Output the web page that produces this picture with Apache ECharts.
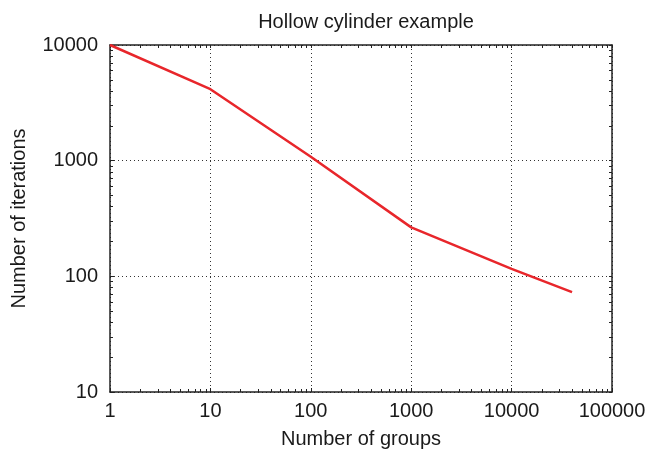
<!DOCTYPE html>
<html><head><meta charset="utf-8">
<script src="https://cdn.jsdelivr.net/npm/echarts@6/dist/echarts.min.js"></script>
<style>html,body{margin:0;padding:0;background:#fff}#c{width:651px;height:455px}</style>
</head><body><div id="c"></div>
<script>
const groups = [1, 10, 100, 1000, 10000, 40000];
const iterations = [10000, 4150, 1080, 265, 116, 73];
const xTicks = [];
for (let p = 1; p <= 10000; p *= 10) for (let m = 1; m <= 9; m++) xTicks.push(m * p);
xTicks.push(100000);
const yTicks = [];
for (let p = 10; p <= 1000; p *= 10) for (let m = 1; m <= 9; m++) yTicks.push(m * p);
yTicks.push(10000);

const font = '"Liberation Sans", Arial, sans-serif';
const txt = '#1a1a1a';
const lineCol = '#222';
const chart = echarts.init(document.getElementById('c'));
const tick = (vals) => ({ show: true, inside: true, length: 3, customValues: vals, lineStyle: { color: lineCol, width: 1 } });
chart.setOption({
  animation: false,
  title: { text: 'Hollow cylinder example', left: 361, top: 7, textAlign: 'center',
    textStyle: { fontFamily: font, fontSize: 20, fontWeight: 'normal', color: txt } },
  grid: { left: 110, right: 39, top: 45, bottom: 63, outerBoundsMode: 'none' },
  xAxis: [
    { type: 'log', logBase: 10, min: 1, max: 100000, position: 'bottom',
      name: 'Number of groups', nameLocation: 'middle', nameGap: 37,
      nameTextStyle: { fontFamily: font, fontSize: 20, color: txt },
      axisLine: { lineStyle: { color: lineCol, width: 1.5 } },
      axisTick: { show: true, inside: true, length: 4, lineStyle: { color: lineCol } },
      axisLabel: { fontFamily: font, fontSize: 20, color: txt, margin: 9, formatter: v => String(v) },
      splitLine: { show: true, lineStyle: { type: [1, 3], color: '#333', width: 1 } } },
    { type: 'log', logBase: 10, min: 1, max: 100000, position: 'bottom',
      axisLine: { show: false }, axisTick: tick(xTicks),
      axisLabel: { show: false }, splitLine: { show: false } },
    { type: 'log', logBase: 10, min: 1, max: 100000, position: 'top',
      axisLine: { lineStyle: { color: lineCol, width: 1.5 } }, axisTick: tick(xTicks),
      axisLabel: { show: false }, splitLine: { show: false } }
  ],
  yAxis: [
    { type: 'log', logBase: 10, min: 10, max: 10000, position: 'left',
      name: 'Number of iterations', nameLocation: 'middle', nameGap: 81,
      nameTextStyle: { fontFamily: font, fontSize: 20, color: txt },
      axisLine: { show: true, lineStyle: { color: lineCol, width: 1.5 } },
      axisTick: { show: true, inside: true, length: 4, lineStyle: { color: lineCol } },
      axisLabel: { fontFamily: font, fontSize: 20, color: txt, margin: 12, formatter: v => String(v) },
      splitLine: { show: true, lineStyle: { type: [1, 3], color: '#333', width: 1 } } },
    { type: 'log', logBase: 10, min: 10, max: 10000, position: 'left',
      axisLine: { show: false }, axisTick: tick(yTicks),
      axisLabel: { show: false }, splitLine: { show: false } },
    { type: 'log', logBase: 10, min: 10, max: 10000, position: 'right',
      axisLine: { show: true, lineStyle: { color: lineCol, width: 1.5 } }, axisTick: tick(yTicks),
      axisLabel: { show: false }, splitLine: { show: false } }
  ],
  series: [{
    type: 'line', xAxisIndex: 0, yAxisIndex: 0,
    data: groups.map((g, i) => [g, iterations[i]]),
    symbol: 'none', lineStyle: { color: '#e8262b', width: 2.5 }
  }]
});
</script></body></html>
